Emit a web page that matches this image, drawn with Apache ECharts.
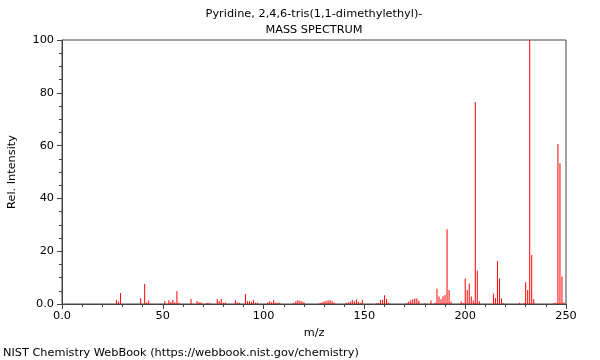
<!DOCTYPE html>
<html>
<head>
<meta charset="utf-8">
<script src="https://cdn.jsdelivr.net/npm/echarts@6/dist/echarts.min.js"></script>
<style>html,body{margin:0;padding:0;background:#fff;}#c{width:600px;height:360px;}</style>
</head>
<body>
<div id="c"></div>
<script>
const titleText = 'Pyridine, 2,4,6-tris(1,1-dimethylethyl)-';
const subTitleText = 'MASS SPECTRUM';
const xAxisName = 'm/z';
const yAxisName = 'Rel. Intensity';
const footerText = 'NIST Chemistry WebBook (https://webbook.nist.gov/chemistry)';

const mz = [27,28,29,39,41,42,43,51,53,54,55,56,57,58,64,67,68,69,72,73,77,78,79,80,81,86,87,88,91,92,93,94,95,96,97,102,103,104,105,106,107,108,115,116,117,118,119,120,128,129,130,131,132,133,134,135,141,142,143,144,145,146,147,148,149,156,157,158,159,160,161,162,171,172,173,174,175,176,177,180,183,185,186,187,188,189,190,191,192,193,198,199,200,201,202,203,204,205,206,207,214,215,216,217,218,219,227,229,230,231,232,233,234,244,245,246,247,248,249];
const intensity = [1.5,0.9,4.2,2.2,7.6,0.6,1.3,1.1,1.4,0.8,1.6,0.6,4.8,0.5,1.9,1.1,0.7,0.7,0.5,0.5,1.9,1.1,1.9,0.5,0.6,1.4,0.6,0.5,3.8,1.0,1.0,0.8,1.4,0.5,0.5,0.6,1.0,0.7,1.5,0.5,0.5,0.5,0.5,1.0,1.4,1.2,1.0,0.7,0.4,0.7,0.9,1.1,1.3,1.5,1.0,0.6,0.5,0.6,0.9,1.5,1.0,1.7,0.8,0.5,1.5,0.3,0.4,1.5,1.5,3.3,1.9,0.5,0.4,0.9,1.4,1.8,2.1,2.1,1.3,0.3,1.3,0.5,5.8,2.8,1.8,2.9,3.4,28.3,5.3,0.9,0.9,0.3,9.7,5.3,7.8,2.8,1.3,76.5,12.6,1.0,4.0,2.3,16.3,9.7,2.1,0.3,0.5,0.4,8.2,5.3,100,18.6,1.9,0.4,0.5,60.6,53.3,10.4,0.6];

const xMin = 0, xMax = 250, xStep = 50;
const yMin = 0, yMax = 100, yStep = 20;

const data = mz.map((m, i) => [m, intensity[i]]);
const fmt = v => (v === 0 ? '0.0' : String(v));
const font = 'DejaVu Sans';
const fs = 11.3;

const chart = echarts.init(document.getElementById('c'), null, {renderer: 'canvas'});
chart.setOption({
  animation: false,
  backgroundColor: '#fff',
  textStyle: {fontFamily: font},
  grid: {left: 62, right: 34, top: 40, bottom: 56, outerBoundsMode: 'none', containLabel: false, show: true, borderColor: '#444', borderWidth: 1, backgroundColor: 'transparent'},
  graphic: [
    {type: 'text', x: 314, y: 14, style: {text: titleText, font: fs + 'px "DejaVu Sans"', fill: '#000', textAlign: 'center', textVerticalAlign: 'middle'}},
    {type: 'text', x: 314, y: 30, style: {text: subTitleText, font: fs + 'px "DejaVu Sans"', fill: '#000', textAlign: 'center', textVerticalAlign: 'middle'}},
    {type: 'text', x: 3, y: 353, style: {text: footerText, font: fs + 'px "DejaVu Sans"', fill: '#000', textAlign: 'left', textVerticalAlign: 'middle'}}
  ],
  xAxis: {
    type: 'value', min: xMin, max: xMax, interval: xStep,
    name: xAxisName, nameLocation: 'middle', nameGap: 24,
    nameTextStyle: {fontSize: fs, color: '#000', fontFamily: font},
    axisLine: {show: true, onZero: false, lineStyle: {color: '#444', width: 1}},
    axisTick: {show: true, length: 5, lineStyle: {color: '#444'}},
    minorTick: {show: true, splitNumber: 5, length: 3, lineStyle: {color: '#444'}},
    axisLabel: {fontSize: fs, color: '#000', margin: 7, formatter: fmt, fontFamily: font},
    splitLine: {show: false}
  },
  yAxis: {
    type: 'value', min: yMin, max: yMax, interval: yStep,
    name: yAxisName, nameLocation: 'middle', nameGap: 44, nameRotate: 90,
    nameTextStyle: {fontSize: fs, color: '#000', fontFamily: font},
    axisLine: {show: true, lineStyle: {color: '#444', width: 1}},
    axisTick: {show: true, length: 5, lineStyle: {color: '#444'}},
    minorTick: {show: true, splitNumber: 4, length: 3, lineStyle: {color: '#444'}},
    axisLabel: {fontSize: fs, color: '#000', margin: 8, formatter: fmt, fontFamily: font},
    splitLine: {show: false}
  },
  series: [{
    type: 'bar',
    data: data,
    barWidth: 1,
    itemStyle: {color: '#ff0000'},
    silent: true
  }]
});
</script>
</body>
</html>
